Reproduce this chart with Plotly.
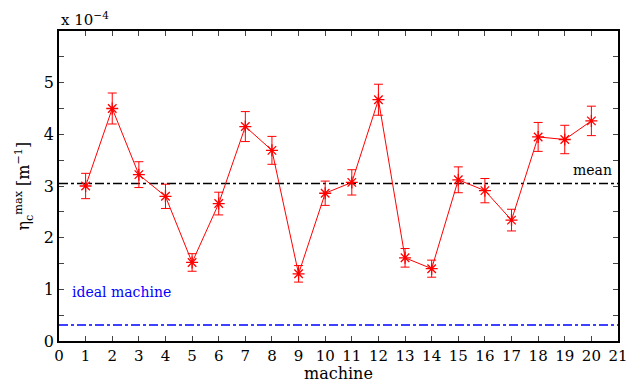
import plotly.graph_objects as go

machines = list(range(1, 21))
eta_max = [3.00, 4.50, 3.22, 2.80, 1.52, 2.66, 4.15, 3.69, 1.30, 2.86,
           3.07, 4.67, 1.61, 1.40, 3.12, 2.91, 2.34, 3.95, 3.90, 4.26]
eta_err = [0.245, 0.30, 0.25, 0.235, 0.17, 0.22, 0.29, 0.27, 0.16, 0.235,
           0.245, 0.30, 0.18, 0.165, 0.25, 0.235, 0.21, 0.28, 0.275, 0.285]
mean_value = 3.05
ideal_value = 0.31
x_ticks = list(range(0, 22))
y_ticks = [i * 0.5 for i in range(0, 13)]
y_labels = [str(int(v)) if v == int(v) and v < 6 else "" for v in y_ticks]

font = "DejaVu Serif"

fig = go.Figure()
fig.add_trace(go.Scatter(
    x=[0, 21], y=[mean_value, mean_value], mode="lines",
    line=dict(color="black", width=1.5, dash="dashdot"), showlegend=False, hoverinfo="skip"))
fig.add_trace(go.Scatter(
    x=[0, 21], y=[ideal_value, ideal_value], mode="lines",
    line=dict(color="blue", width=1.5, dash="dashdot"), showlegend=False, hoverinfo="skip"))
fig.add_trace(go.Scatter(
    x=machines, y=eta_max, mode="lines+markers",
    line=dict(color="red", width=1),
    marker=dict(symbol="asterisk-open", size=10, color="red", line=dict(color="red", width=1.3)),
    error_y=dict(type="data", array=eta_err, visible=True, color="red", thickness=1, width=4.5),
    showlegend=False))

fig.update_layout(
    width=627, height=382,
    margin=dict(l=59, r=9, t=31, b=41),
    paper_bgcolor="white", plot_bgcolor="white",
    font=dict(family=font, size=15, color="black"),
    xaxis=dict(range=[0, 21], tickvals=x_ticks, ticks="inside", ticklen=5,
               showline=True, linecolor="black", linewidth=1.5, mirror="ticks",
               showgrid=False, zeroline=False, automargin=False, ticklabeloverflow="allow",
               tickfont=dict(family=font, size=15)),
    yaxis=dict(range=[0, 6], tickvals=y_ticks, ticktext=y_labels, ticks="inside", ticklen=5,
               showline=True, linecolor="black", linewidth=1.5, mirror="ticks",
               showgrid=False, zeroline=False, automargin=False,
               tickfont=dict(family=font, size=16)),
    annotations=[
        dict(x=0.5, y=0, xref="paper", yref="paper", xanchor="center", yanchor="bottom",
             text="machine", showarrow=False, font=dict(family=font, size=16), yshift=-44),
        dict(x=0, y=0.5, xref="paper", yref="paper", xanchor="right", yanchor="middle",
             text="η<sub>c</sub><sup>max</sup> [m<sup>−1</sup>]", showarrow=False, textangle=-90,
             font=dict(family=font, size=16), xshift=-22),
        dict(x=0, y=1, xref="paper", yref="paper", xanchor="left", yanchor="bottom",
             text="x 10<sup>−4</sup>", showarrow=False, font=dict(family=font, size=15), yshift=0),
        dict(x=20.85, y=mean_value, xref="x", yref="y", xanchor="right", yanchor="bottom",
             text="mean", showarrow=False, font=dict(family=font, size=14), yshift=3),
        dict(x=0.4, y=0.95, xref="x", yref="y", xanchor="left", yanchor="middle",
             text="ideal machine", showarrow=False, font=dict(family=font, size=14, color="blue")),
    ],
)

fig.write_html("out.html", config={"displayModeBar": False},
               post_script="document.body.style.margin='0';")
